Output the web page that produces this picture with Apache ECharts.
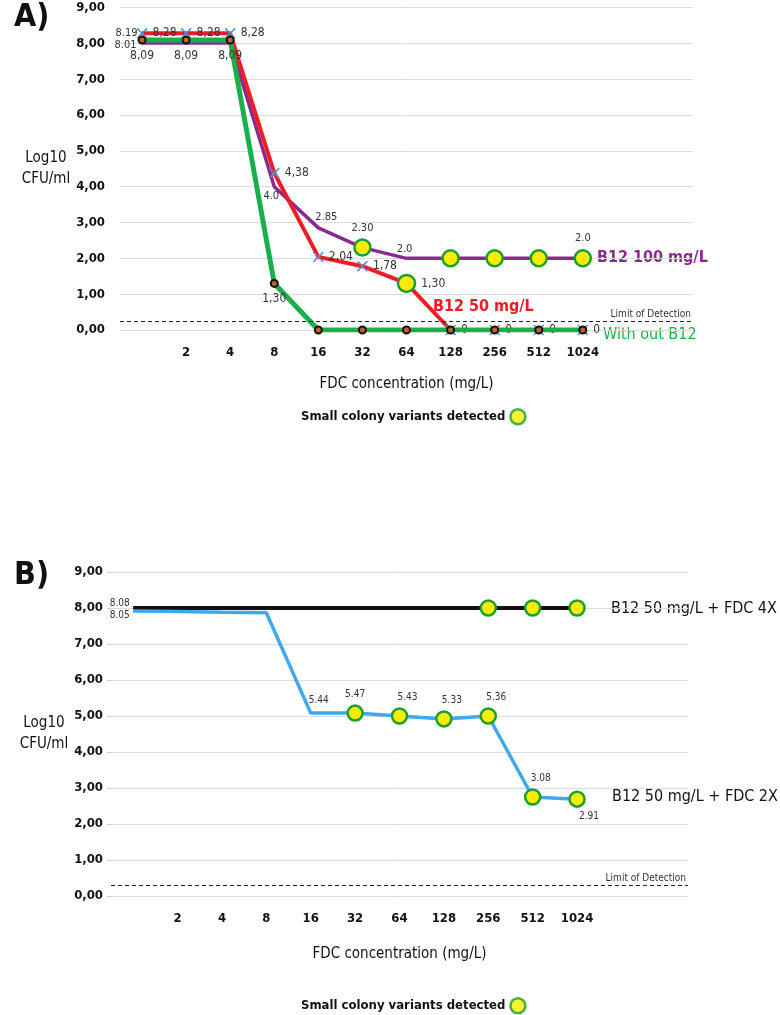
<!DOCTYPE html>
<html>
<head>
<meta charset="utf-8">
<script src="https://cdn.jsdelivr.net/npm/echarts@6/dist/echarts.min.js"></script>
<style>
  html, body { margin: 0; background: #fff; }
  #main { width: 780px; height: 1015px; }
</style>
</head>
<body>
<div id="main"></div>
<script>
// FDC concentration categories (first slot = no drug, two empty slots at the end)
const cats = ['', '2', '4', '8', '16', '32', '64', '128', '256', '512', '1024', '', ''];

// panel A
const b12_100 = [8.01, 8.01, 8.01, 4.0, 2.85, 2.30, 2.0, 2.0, 2.0, 2.0, 2.0];
const b12_50 = [8.28, 8.28, 8.28, 4.38, 2.04, 1.78, 1.30, 0, 0, 0, 0];
const noB12 = [8.09, 8.09, 8.09, 1.30, 0, 0, 0, 0, 0, 0, 0];
const b12_100Labels = ['8.01', '', '', '4.0', '2.85', '2.30', '2.0', '', '', '', '2.0'];
const b12_50Labels = ['8,28', '8,28', '8,28', '4,38', '2,04', '1,78', '1,30', '0', '0', '0', '0'];
const noB12Labels = ['8,09', '8,09', '8,09', '1,30', '', '', '', '', '', '', ''];
const b12_100Scv = [0, 0, 0, 0, 0, 1, 0, 1, 1, 1, 1];
const b12_50Scv = [0, 0, 0, 0, 0, 0, 1, 0, 0, 0, 0];
const b12_50StartNote = '8.19';
const lodA = 0.25;

// panel B
const fdc4x = [8.0, 8.0, 8.0, 8.0, 8.0, 8.0, 8.0, 8.0, 8.0, 8.0, 8.0];
const fdc2x = [7.92, 7.9, 7.88, 7.87, 5.08, 5.08, 5.0, 4.92, 5.0, 2.75, 2.69];
const fdc4xLabels = ['8.08', '', '', '', '', '', '', '', '', '', ''];
const fdc2xLabels = ['8.05', '', '', '', '5.44', '5.47', '5.43', '5.33', '5.36', '3.08', '2.91'];
const fdc4xScv = [0, 0, 0, 0, 0, 0, 0, 0, 1, 1, 1];
const fdc2xScv = [0, 0, 0, 0, 0, 1, 1, 1, 1, 1, 1];
const lodB = 0.3;

const yTicks = [0, 1, 2, 3, 4, 5, 6, 7, 8, 9];

const FONT = '"DejaVu Sans Condensed", "DejaVu Sans", sans-serif';
const scvStyle = { color: '#ffec00', borderColor: '#18a030', borderWidth: 2.5 };
const xMark = 'path://M0,1L1,0L5,4L9,0L10,1L6,5L10,9L9,10L5,6L1,10L0,9L4,5Z';

// build data items; labelPos maps index -> [position, offset]
function items(values, labels, scv, labelPos, fontSize, scvSize) {
    return values.map((v, i) => {
        const p = labelPos[i] || labelPos.def;
        const it = {
            value: v,
            label: {
                show: labels[i] !== '',
                formatter: labels[i],
                position: p[0],
                offset: p[1],
                fontSize: fontSize,
                color: '#333',
                fontFamily: FONT
            }
        };
        if (scv && scv[i]) {
            it.symbol = 'circle';
            it.symbolSize = scvSize;
            it.itemStyle = scvStyle;
        }
        return it;
    });
}

function xAxis(grid, nameGap) {
    return {
        type: 'category', gridIndex: grid, data: cats, boundaryGap: true,
        axisLine: { show: false }, axisTick: { show: false },
        axisLabel: { fontWeight: 'bold', fontSize: 13, color: '#111', margin: 16, interval: 0, fontFamily: FONT },
        name: 'FDC concentration (mg/L)', nameLocation: 'middle', nameGap: nameGap,
        nameTextStyle: { fontSize: 15, color: '#111', fontFamily: FONT }
    };
}

function yAxis(grid, margin, nameGap, tick) {
    return {
        type: 'value', gridIndex: grid, min: yTicks[0], max: yTicks[yTicks.length - 1], interval: 1,
        axisLine: { show: false },
        axisTick: { show: tick, length: 4, lineStyle: { color: '#ccc' } },
        axisLabel: {
            formatter: v => v.toFixed(2).replace('.', ','),
            fontWeight: 'bold', fontSize: 13, color: '#111', margin: margin, fontFamily: FONT
        },
        splitLine: { lineStyle: { color: '#dcdcdc', width: 1 } },
        name: 'Log10\nCFU/ml', nameLocation: 'middle', nameRotate: 0, nameGap: nameGap,
        nameTextStyle: { fontSize: 15, color: '#111', lineHeight: 21, align: 'center', fontFamily: FONT }
    };
}

function lod(value) {
    return {
        silent: true, symbol: 'none',
        lineStyle: { type: [4, 3], color: '#222', width: 1.2 },
        label: { formatter: 'Limit of Detection', position: 'insideEndTop', fontSize: 10, color: '#333', distance: 2, fontFamily: FONT },
        data: [{ yAxis: value }]
    };
}

function legend(top) {
    return {
        data: ['Small colony variants detected'], left: 296, top: top, align: 'right',
        icon: 'circle', itemWidth: 15, itemHeight: 15, itemGap: 8,
        itemStyle: scvStyle, selectedMode: false,
        textStyle: { fontSize: 13, fontWeight: 600, color: '#111', fontFamily: FONT }
    };
}

function seriesText(left, top, text, color, weight) {
    return {
        type: 'text', left: left, top: top,
        style: { text: text, fill: color, font: weight + ' 16px ' + FONT }
    };
}

const chart = echarts.init(document.getElementById('main'));
const option = {
    animation: false,
    textStyle: { fontFamily: FONT },
    grid: [
        { left: 120, top: 7.5, width: 573, height: 322.5 },
        { left: 111, top: 572, width: 577, height: 324 }
    ],
    xAxis: [xAxis(0, 47), xAxis(1, 51)],
    yAxis: [yAxis(0, 15, 72, false), yAxis(1, 8, 63, true)],
    legend: [legend(403), legend(992)],
    graphic: [
        { type: 'text', left: 14, top: 2, style: { text: 'A)', fill: '#111', font: 'bold 32px ' + FONT } },
        { type: 'text', left: 14, top: 560, style: { text: 'B)', fill: '#111', font: 'bold 32px ' + FONT } },
        seriesText(597, 250, 'B12 100 mg/L', '#8b2a8e', 'bold'),
        seriesText(433, 299, 'B12 50 mg/L', '#ee1c24', 'bold'),
        seriesText(603, 327, 'With out B12', '#19b04b', 'normal'),
        seriesText(611, 601, 'B12 50 mg/L + FDC 4X', '#111', 'normal'),
        seriesText(612, 789, 'B12 50 mg/L + FDC 2X', '#111', 'normal')
    ],
    series: [
        {
            name: 'B12 100 mg/L', type: 'line', xAxisIndex: 0, yAxisIndex: 0, z: 1,
            showAllSymbol: true, symbol: 'circle', symbolSize: 1,
            lineStyle: { color: '#8b2a8e', width: 3.5 }, itemStyle: { color: '#8b2a8e' },
            data: items(b12_100, b12_100Labels, b12_100Scv, {
                def: ['top', [0, 0]], 0: ['left', [0, 2]], 3: ['bottom', [-3, -2]], 4: ['top', [8, 0]], 6: ['top', [-2, 2]]
            }, 11, 16)
        },
        {
            name: 'B12 50 mg/L', type: 'line', xAxisIndex: 0, yAxisIndex: 0, z: 2,
            showAllSymbol: true, symbol: xMark, symbolSize: 11,
            lineStyle: { color: '#ee1c24', width: 4 }, itemStyle: { color: '#4f8fd0' },
            data: items(b12_50, b12_50Labels, b12_50Scv, { def: ['right', [0, 0]] }, 12, 17),
            markPoint: {
                symbol: 'circle', symbolSize: 1, itemStyle: { color: 'transparent' },
                label: { show: true, formatter: b12_50StartNote, position: 'left', distance: 4, fontSize: 11, color: '#333', fontFamily: FONT },
                data: [{ coord: [0, b12_50[0]] }]
            }
        },
        {
            name: 'With out B12', type: 'line', xAxisIndex: 0, yAxisIndex: 0, z: 3,
            showAllSymbol: true, symbol: 'circle', symbolSize: 7,
            lineStyle: { color: '#19b04b', width: 5 },
            itemStyle: { color: '#c0602a', borderColor: '#111', borderWidth: 2 },
            data: items(noB12, noB12Labels, null, { def: ['bottom', [0, 0]] }, 12, 0),
            markLine: lod(lodA)
        },
        {
            name: 'B12 50 mg/L + FDC 4X', type: 'line', xAxisIndex: 1, yAxisIndex: 1, z: 2,
            showAllSymbol: true, symbol: 'circle', symbolSize: 1,
            lineStyle: { color: '#111', width: 4 }, itemStyle: { color: '#111' },
            data: items(fdc4x, fdc4xLabels, fdc4xScv, { def: ['left', [2, -5]] }, 10, 15),
            markLine: lod(lodB)
        },
        {
            name: 'B12 50 mg/L + FDC 2X', type: 'line', xAxisIndex: 1, yAxisIndex: 1, z: 3,
            showAllSymbol: true, symbol: 'circle', symbolSize: 1,
            lineStyle: { color: '#41a8ec', width: 3.5 }, itemStyle: { color: '#41a8ec' },
            data: items(fdc2x, fdc2xLabels, fdc2xScv, {
                def: ['top', [8, 0]], 0: ['left', [2, 5]], 4: ['top', [8, -2]], 5: ['top', [0, 0]], 10: ['bottom', [12, -2]]
            }, 10, 15)
        },
        {
            name: 'Small colony variants detected', type: 'scatter', xAxisIndex: 0, yAxisIndex: 0,
            data: [], itemStyle: scvStyle
        }
    ]
};
chart.setOption(option);
</script>
</body>
</html>
